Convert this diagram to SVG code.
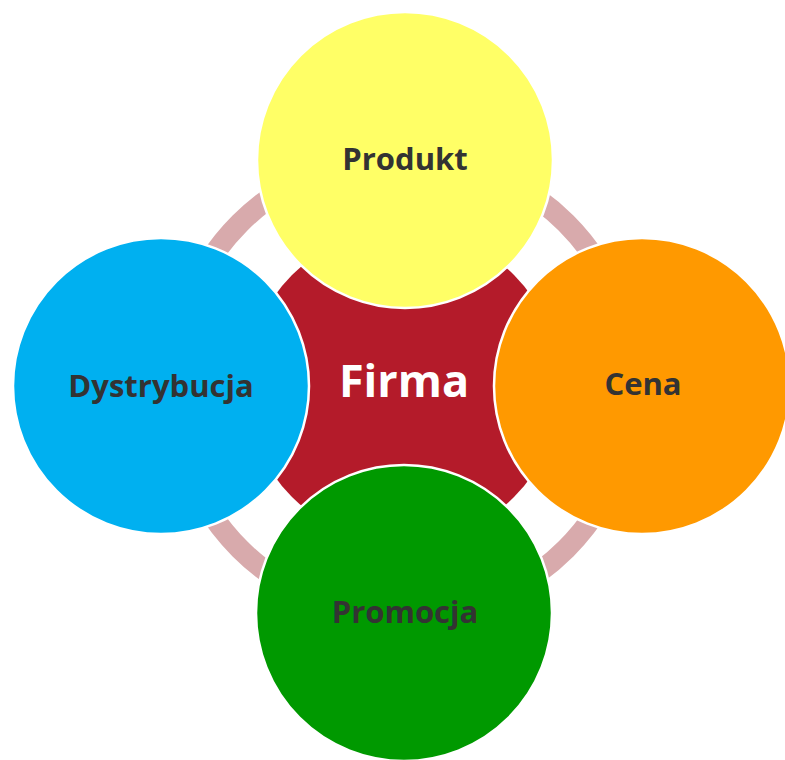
<svg xmlns="http://www.w3.org/2000/svg" width="785" height="760" viewBox="0 0 785 760">
<style>
.node{stroke:#fff;stroke-width:2.5}
.lbl{font-family:"Open Sans","Liberation Sans",sans-serif;font-weight:bold;font-size:31px;fill:#333333;text-anchor:middle}
.center{font-family:"Open Sans","Liberation Sans",sans-serif;font-weight:bold;font-size:45px;fill:#ffffff;text-anchor:middle}
</style>
<rect width="785" height="760" fill="#ffffff"/>
<g id="connectors">
<circle cx="403" cy="386" r="230.5" fill="none" stroke="#D8AAAC" stroke-width="21"/>
</g>
<g id="firma">
<circle cx="403" cy="386" r="157" fill="#B41B2A"/>
<text class="center" x="404" y="397">Firma</text>
</g>
<g id="produkt">
<circle class="node" cx="405" cy="160" r="148" fill="#FFFF66"/>
<text class="lbl" x="405" y="170">Produkt</text>
</g>
<g id="cena">
<circle class="node" cx="642" cy="386" r="148" fill="#FF9900"/>
<text class="lbl" x="643" y="395">Cena</text>
</g>
<g id="promocja">
<circle class="node" cx="404" cy="613" r="148" fill="#009900"/>
<text class="lbl" x="405" y="623">Promocja</text>
</g>
<g id="dystrybucja">
<circle class="node" cx="161" cy="386" r="148" fill="#00B0F0"/>
<text class="lbl" x="161" y="397">Dystrybucja</text>
</g>
</svg>
